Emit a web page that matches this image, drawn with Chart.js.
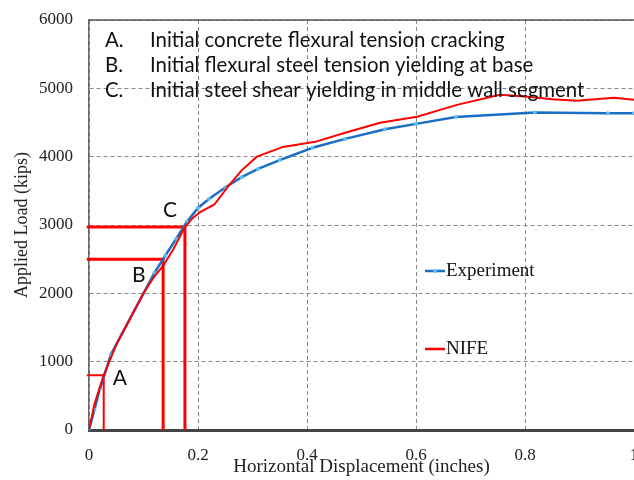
<!DOCTYPE html>
<html>
<head>
<meta charset="utf-8">
<script src="https://cdn.jsdelivr.net/npm/chart.js@4.4.1/dist/chart.umd.min.js"></script>
<style>
  html, body { margin: 0; padding: 0; background: #fff; }
  #wrap { width: 634px; height: 480px; }
</style>
</head>
<body>
<div id="wrap"><canvas id="grafico" width="634" height="480"></canvas></div>
<script>
// Experiment curve (displacement in inches, load in kips)
const expX = [0, 0.01, 0.02, 0.04, 0.06, 0.08, 0.10, 0.12, 0.14, 0.16, 0.18, 0.20, 0.22, 0.25, 0.28, 0.31, 0.35, 0.41, 0.47, 0.543, 0.60, 0.673, 0.818, 0.952, 1.0];
const expY = [0, 300, 600, 1100, 1400, 1700, 2000, 2300, 2550, 2800, 3050, 3250, 3380, 3550, 3700, 3820, 3950, 4130, 4260, 4400, 4480, 4580, 4645, 4636, 4636];

// NIFE curve
const nifeX = [0, 0.01, 0.027, 0.05, 0.08, 0.10, 0.12, 0.136, 0.155, 0.176, 0.19, 0.204, 0.23, 0.255, 0.28, 0.308, 0.356, 0.415, 0.47, 0.534, 0.602, 0.675, 0.754, 0.80, 0.85, 0.895, 0.963, 1.0];
const nifeY = [0, 380, 800, 1250, 1700, 2000, 2250, 2400, 2650, 2970, 3100, 3190, 3300, 3560, 3800, 4000, 4143, 4217, 4350, 4495, 4583, 4758, 4905, 4880, 4840, 4817, 4861, 4832];

// Marked events A, B, C: displacement and load
const eventos = ['A', 'B', 'C'];
const eventoX = [0.027, 0.136, 0.176];
const eventoY = [800, 2500, 2970];
const eventoTexto = [
  'Initial concrete flexural tension cracking',
  'Initial flexural steel tension yielding at base',
  'Initial steel shear yielding in middle wall segment'
];

const xTicks = [0, 0.2, 0.4, 0.6, 0.8, 1];
const yTicks = [0, 1000, 2000, 3000, 4000, 5000, 6000];

const pontos = (xs, ys) => xs.map((x, i) => ({ x: x, y: ys[i] }));

// red guide lines: from the load axis to the curve, then down to zero
const guias = eventos.map((e, i) => ({
  data: [{ x: -0.004, y: eventoY[i] }, { x: eventoX[i], y: eventoY[i] }, { x: eventoX[i], y: 0 }],
  borderColor: '#ff0000',
  borderWidth: i === 0 ? 2 : 3,
  pointRadius: 0,
  showLine: true,
  fill: false,
  clip: false,
  order: 3
}));

const serif = 'Liberation Serif';
const sans = 'Lato';

const extras = {
  id: 'extras',
  afterDatasetsDraw(chart) {
    const { ctx, chartArea, scales } = chart;
    ctx.save();
    // top frame line
    ctx.strokeStyle = '#555';
    ctx.lineWidth = 1.5;
    ctx.beginPath();
    ctx.moveTo(chartArea.left, chartArea.top);
    ctx.lineTo(chartArea.right, chartArea.top);
    ctx.stroke();

    // notes at the top
    ctx.fillStyle = '#111';
    ctx.font = '20.4px ' + sans;
    ctx.textBaseline = 'middle';
    eventos.forEach((e, i) => {
      const y = 40 + i * 25;
      ctx.fillText(e + '.', 105, y);
      ctx.fillText(eventoTexto[i], 150, y);
    });

    // letters beside the curve
    ctx.font = '21px ' + sans;
    const offs = [[9, 3], [-31, 16], [-22, -17]];
    eventos.forEach((e, i) => {
      const px = scales.x.getPixelForValue(eventoX[i]) + offs[i][0];
      const py = scales.y.getPixelForValue(eventoY[i]) + offs[i][1];
      ctx.fillText(e, px, py);
    });

    // legend
    ctx.font = '19px ' + serif;
    const leg = [
      { nome: 'Experiment', cor: '#1a6fc4', y: 271, ponto: true },
      { nome: 'NIFE', cor: '#ff0000', y: 349, ponto: false }
    ];
    leg.forEach(l => {
      ctx.strokeStyle = l.cor;
      ctx.lineWidth = 2.5;
      ctx.beginPath();
      ctx.moveTo(425, l.y);
      ctx.lineTo(445, l.y);
      ctx.stroke();
      if (l.ponto) {
        ctx.fillStyle = '#5bc0f0';
        ctx.beginPath();
        ctx.arc(435, l.y, 2, 0, Math.PI * 2);
        ctx.fill();
      }
      ctx.fillStyle = '#111';
      ctx.fillText(l.nome, 446, l.y);
    });
    ctx.restore();
  }
};

new Chart(document.getElementById('grafico'), {
  type: 'scatter',
  data: {
    datasets: [
      {
        label: 'Experiment',
        data: pontos(expX, expY),
        borderColor: '#1a6fc4',
        borderWidth: 2.5,
        pointRadius: 2,
        pointBackgroundColor: '#5bc0f0',
        pointBorderWidth: 0,
        showLine: true,
        tension: 0,
        order: 2
      },
      {
        label: 'NIFE',
        data: pontos(nifeX, nifeY),
        borderColor: '#ff0000',
        borderWidth: 2,
        pointRadius: 0,
        showLine: true,
        tension: 0,
        order: 1
      },
      ...guias
    ]
  },
  options: {
    responsive: false,
    animation: false,
    // the plot runs right up to the window edge, so the "1" label is cut
    layout: { autoPadding: false, padding: { top: 20, left: 11, right: 0, bottom: 0 } },
    plugins: { legend: { display: false }, tooltip: { enabled: false } },
    scales: {
      x: {
        type: 'linear',
        min: 0,
        max: 1,
        afterBuildTicks: s => { s.ticks = xTicks.map(v => ({ value: v })); },
        afterFit: s => { s.height = 50; s.paddingLeft = 0; s.paddingRight = 0; },
        grid: { color: '#888', drawTicks: false, lineWidth: 1 },
        border: { color: '#444', width: 3, dash: [4, 3] },
        ticks: {
          padding: 15,
          maxRotation: 0,
          color: '#222',
          font: { family: serif, size: 17 },
          callback: v => String(v)
        },
        title: {
          display: true,
          text: 'Horizontal Displacement (inches)',
          color: '#222',
          font: { family: serif, size: 19 },
          padding: { top: 0, bottom: 2 }
        }
      },
      y: {
        type: 'linear',
        min: 0,
        max: 6000,
        afterBuildTicks: s => { s.ticks = yTicks.map(v => ({ value: v })); },
        afterFit: s => { s.width = 78; s.paddingTop = 0; s.paddingBottom = 0; },
        grid: { color: '#888', drawTicks: false, lineWidth: 1 },
        border: { color: '#666', width: 1.5, dash: [4, 3] },
        ticks: {
          padding: 16,
          color: '#222',
          font: { family: serif, size: 17 },
          callback: v => String(v)
        },
        title: {
          display: true,
          text: 'Applied Load (kips)',
          color: '#222',
          font: { family: serif, size: 18 },
          padding: 0
        }
      }
    }
  },
  plugins: [extras]
});
</script>
</body>
</html>
